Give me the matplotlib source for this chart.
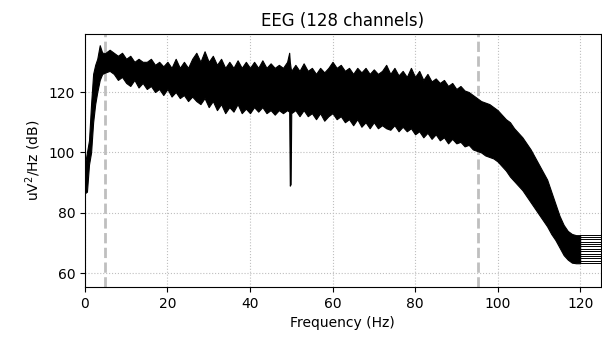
import matplotlib
matplotlib.use("Agg")
import matplotlib.pyplot as plt
import numpy as np

# envelope of the 128 channel spectra (Hz, dB)
freqs = [0, 0.5, 1, 1.5, 2, 2.5, 3, 3.6, 4.2, 5, 6, 7, 8, 9, 10, 11, 12, 13, 14, 15,
         16, 17, 18, 19, 20, 21, 22, 23, 24, 25, 26, 27, 28, 29, 30, 31, 32, 33, 34, 35,
         36, 37, 38, 39, 40, 41, 42, 43, 44, 45, 46, 47, 48, 49, 49.5, 49.65, 49.85, 50, 51, 52, 53,
         54, 55, 56, 57, 58, 59, 60, 61, 62, 63, 64, 65, 66, 67, 68, 69, 70, 71, 72, 73,
         74, 75, 76, 77, 78, 79, 80, 81, 82, 83, 84, 85, 86, 87, 88, 89, 90, 91, 92, 93,
         94, 95, 96, 97, 98, 99, 100, 101, 102, 103, 104, 105, 106, 107, 108, 109, 110, 111, 112, 113,
         114, 115, 116, 117, 118, 119, 120]
upper = [96, 100, 104, 116, 126, 129, 131, 135.5, 133, 133, 134, 133, 132, 133, 131, 132, 130, 131, 130, 130,
         131, 129, 130, 128.5, 130, 128, 131, 128, 130, 128, 131, 133, 130, 133.5, 130, 132, 129, 131, 128, 130,
         128, 130.5, 128, 130, 128, 130, 128, 130.5, 128, 129.5, 128, 129, 128, 130, 133, 130, 128, 127, 129, 127, 129.5,
         127, 128, 126, 128, 126.5, 128, 130, 128, 129, 127, 128, 126, 128, 126.5, 128, 126, 127.5, 126, 127, 129,
         126, 128, 125.5, 127, 125, 128, 125, 127, 124, 126, 123.5, 124.5, 123, 124, 122, 123, 121, 122, 120.5, 120,
         119, 118, 117, 116.5, 116, 115, 114, 112.5, 111, 110, 108, 106.5, 105, 103, 101, 98.5, 96, 93.5, 91, 87,
         83, 79, 76, 74, 73, 72.6, 72.6]
lower = [86.5, 87, 96, 100, 110, 116, 120, 124, 126, 126.5, 127, 126, 124, 125, 123, 122, 124, 121.5, 123, 121,
         122, 120, 121, 119, 121, 118.5, 120, 118, 119, 117, 118.5, 117, 116, 118, 115, 117, 114, 116, 113, 115,
         113.5, 116, 113, 114.5, 113, 115, 113.5, 115, 113, 114, 112.5, 114, 113, 114, 113.5, 89, 89.5, 113, 114, 112, 114,
         112, 113, 111, 113, 110.5, 112, 113, 111, 112, 110, 111, 109, 111, 108.5, 110, 108, 110, 108, 109, 108,
         107.5, 109, 107, 108.5, 107, 108, 106, 107, 105, 106.5, 104.5, 106, 104, 105, 103, 104.5, 103, 103.5, 102, 102.5,
         101, 100.5, 100, 99, 98.5, 98, 97, 95.5, 94, 92, 90.5, 89, 87.5, 85.5, 83.5, 81.5, 79.5, 77.5, 75.5, 73,
         71, 68.5, 66, 64.5, 63.5, 63.3, 63.3]
# flat channel tails above 120 Hz
tail_freqs = [120, 125]
tail_levels = [63.3, 64.1, 64.9, 65.7, 66.5, 67.3, 68.1, 68.9, 69.7, 70.5, 71.3, 72.0, 72.6]
# dashed markers
vline_freqs = [4.8, 95.2]

fig = plt.figure(figsize=(6.02, 3.37), dpi=100)
ax = fig.add_axes([0.141, 0.148, 0.857, 0.751])

for f in vline_freqs:
    ax.axvline(f, color='0.75', linestyle='--', linewidth=2, zorder=1)

ax.fill_between(freqs, lower, upper, color='black', linewidth=0.8, edgecolor='black', zorder=3)
for lev in tail_levels:
    ax.plot(tail_freqs, [lev, lev], color='black', linewidth=0.7, zorder=3)

ax.set_xlim(0, 125)
ax.set_ylim(55.4, 139.2)
ax.set_xticks([0, 20, 40, 60, 80, 100, 120])
ax.set_yticks([60, 80, 100, 120])
ax.grid(True, linestyle=':', color='0.75', linewidth=0.8)
ax.set_axisbelow(True)
ax.set_xlabel('Frequency (Hz)')
ax.set_ylabel('uV$^2$/Hz (dB)')
ax.set_title('EEG (128 channels)', fontsize=12)

fig.savefig('out.png', dpi=100)
